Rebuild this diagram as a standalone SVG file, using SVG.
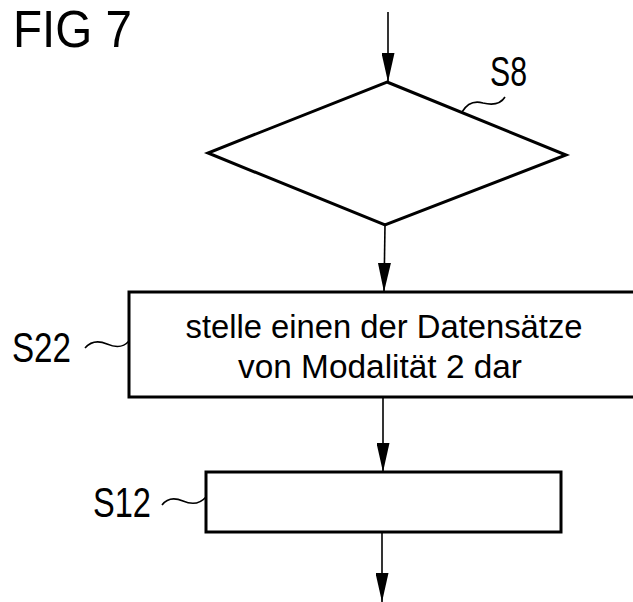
<svg xmlns="http://www.w3.org/2000/svg" width="633" height="602" viewBox="0 0 633 602">
<defs>
<style>
.shape{fill:none;stroke:#000;stroke-width:3;stroke-linejoin:miter}
.conn{fill:none;stroke:#000;stroke-width:1.6}
.sq{fill:none;stroke:#000;stroke-width:1.6}
text{font-family:"Liberation Sans","DejaVu Sans",sans-serif;fill:#000}
.lbl{font-size:43px}
.body{font-size:34px}
</style>
<marker id="ah" markerUnits="userSpaceOnUse" markerWidth="29" markerHeight="13" refX="29" refY="6.5" orient="auto" viewBox="0 0 29 13">
<path d="M0,0 L29,6.5 L0,13 Z" fill="#000"/>
</marker>
</defs>
<rect width="633" height="602" fill="#fff"/>
<text x="13" y="47" font-size="52" textLength="119" lengthAdjust="spacingAndGlyphs">FIG 7</text>
<g id="connectors">
<line class="conn" x1="388" y1="12" x2="388" y2="82" marker-end="url(#ah)"/>
<line class="conn" x1="385" y1="225" x2="384" y2="292" marker-end="url(#ah)"/>
<line class="conn" x1="383" y1="397" x2="383" y2="472" marker-end="url(#ah)"/>
<line class="conn" x1="382" y1="532" x2="382" y2="602" marker-end="url(#ah)"/>
</g>
<g id="S8">
<polygon class="shape" points="387,82 566,155 385,225 208,153"/>
<path class="sq" d="M462,112 C468,102 476,101 483,103 C491,105 500,105 505,97"/>
<text class="lbl" x="490" y="86" textLength="37" lengthAdjust="spacingAndGlyphs">S8</text>
</g>
<g id="S22">
<rect class="shape" x="129" y="292" width="520" height="105"/>
<text class="body" x="384" y="338" text-anchor="middle" textLength="397" lengthAdjust="spacingAndGlyphs">stelle einen der Datensätze</text>
<text class="body" x="380" y="378" text-anchor="middle" textLength="284" lengthAdjust="spacingAndGlyphs">von Modalität 2 dar</text>
<path class="sq" d="M85,348 C92,340 100,341 107,344 C114,347 122,349 129,341"/>
<text class="lbl" x="12" y="362" textLength="59" lengthAdjust="spacingAndGlyphs">S22</text>
</g>
<g id="S12">
<rect class="shape" x="206" y="472" width="355" height="60"/>
<path class="sq" d="M162,505 C168,497 176,498 183,501 C190,504 199,505 206,497"/>
<text class="lbl" x="93" y="517" textLength="58" lengthAdjust="spacingAndGlyphs">S12</text>
</g>
</svg>
